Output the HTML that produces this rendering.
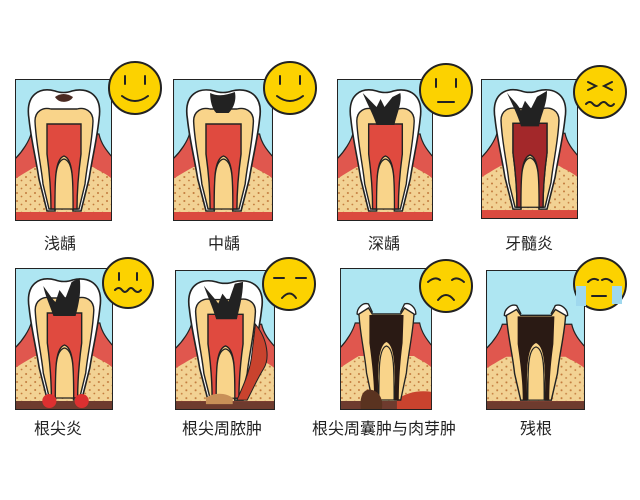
<!DOCTYPE html>
<html><head><meta charset="utf-8"><style>
html,body{margin:0;padding:0;background:#fff;}
svg{display:block}
text{font-family:"Liberation Sans","Noto Sans CJK SC",sans-serif;font-size:16px;fill:#222;text-anchor:middle}
</style></head><body>
<svg width="640" height="500" viewBox="0 0 640 500" xmlns="http://www.w3.org/2000/svg">
<defs>
<pattern id="dots" width="9" height="8" patternUnits="userSpaceOnUse">
<rect width="9" height="8" fill="#f2d294"/>
<circle cx="2" cy="2" r="1" fill="#c27a3c"/><circle cx="6.5" cy="5.5" r="0.9" fill="#c27a3c"/>
</pattern>
<symbol id="base" viewBox="0 0 97 142" preserveAspectRatio="none">
<rect x="0" y="0" width="97" height="142" fill="#aee6f2"/>
<path d="M0,80 C8,72 14,62 16,55 L84,55 C86,65 92,72 97,78 L97,142 L0,142 Z" fill="#e0574e" stroke="#222" stroke-width="1.2"/>
<path d="M0,100 C8,95 16,90 20,88 L78,88 C84,92 92,95 97,100 L97,133 L0,133 Z" fill="url(#dots)"/>
<rect x="0" y="133" width="97" height="9" fill="#db4a3f"/>
</symbol>
<symbol id="tooth" viewBox="0 0 97 142" preserveAspectRatio="none">
<path d="M14,40 C10,15 25,8 40,12 C45,14 52,14 57,12 C72,8 88,15 84,40 C82,60 78,75 74,100 L66,132 L58,132 L56,95 C54,80 44,80 42,95 L40,132 L32,132 L24,100 C20,75 16,60 14,40 Z" fill="#fff" stroke="#222" stroke-width="1.6"/>
<path d="M20,42 C20,32 28,28 36,30 L62,30 C70,28 78,32 78,42 C77,65 72,85 70,105 L64,130 L58,130 L56,95 C54,80 44,80 42,95 L40,130 L34,130 L28,105 C26,85 21,65 20,42 Z" fill="#f9d48a" stroke="#222" stroke-width="1.4"/>
<path d="M32,45 L66,45 L66,75 C64,90 62,110 62,130 L58,130 C58,100 58,80 49,77 C40,80 40,100 40,130 L36,130 C36,110 34,90 32,75 Z" fill="#e04a3f" stroke="#222" stroke-width="1.4"/>
<path d="M40,130 C40,100 40,82 49,80 C58,82 58,100 58,130 Z" fill="#f9d48a" stroke="#222" stroke-width="1.2"/>
</symbol>
<symbol id="stub" viewBox="0 0 97 142" preserveAspectRatio="none">
<path d="M18,46 C18,40 24,34 30,36 L34,44 L26,50 Z M80,46 C80,40 74,34 68,36 L64,44 L72,50 Z" fill="#fff" stroke="#222" stroke-width="1.4"/>
<path d="M20,46 L30,40 L34,46 L64,46 L68,40 L78,46 C77,65 72,85 70,105 L64,132 L58,132 L56,95 C54,80 44,80 42,95 L40,132 L34,132 L28,105 C26,85 21,65 20,46 Z" fill="#f9d48a" stroke="#222" stroke-width="1.4"/>
<path d="M31,47 L67,47 L66,75 C64,90 62,110 62,132 L58,132 C58,100 58,78 49,74 C40,78 40,100 40,132 L36,132 C36,110 33,90 31,75 Z" fill="#2a1a14"/>
<path d="M41,132 C41,100 41,80 49,78 C57,80 57,100 57,132 Z" fill="#f9d48a" stroke="#222" stroke-width="1.2"/>
</symbol>
</defs>

<g>
<svg x="15" y="79" width="97" height="142" viewBox="0 0 97 142" preserveAspectRatio="none">
<use href="#base" width="97" height="142"/><use href="#tooth" width="97" height="142"/>
<path d="M40,18 C45,14 52,14 58,18 C55,24 44,25 40,18 Z" fill="#4a2a22"/>
<rect x="0" y="0" width="97" height="142" fill="none" stroke="#222" stroke-width="2"/></svg>
<svg x="173" y="79" width="100" height="142" viewBox="0 0 97 142" preserveAspectRatio="none">
<use href="#base" width="97" height="142"/><use href="#tooth" width="97" height="142"/>
<path d="M36,14 C44,18 52,16 60,13 C62,22 58,30 54,34 L42,34 C38,30 36,22 36,14 Z" fill="#222"/>
<rect x="0" y="0" width="97" height="142" fill="none" stroke="#222" stroke-width="2"/></svg>
<svg x="337" y="79" width="96" height="142" viewBox="0 0 97 142" preserveAspectRatio="none">
<use href="#base" width="97" height="142"/><use href="#tooth" width="97" height="142"/>
<path d="M26,14 C32,20 36,24 40,28 L44,20 L48,28 L56,18 L64,14 C66,24 60,36 58,46 L40,46 C36,34 30,24 26,14 Z" fill="#222"/>
<rect x="0" y="0" width="97" height="142" fill="none" stroke="#222" stroke-width="2"/></svg>
<svg x="481" y="79" width="97" height="140" viewBox="0 0 97 142" preserveAspectRatio="none">
<use href="#base" width="97" height="142"/><use href="#tooth" width="97" height="142"/>
<path d="M32,45 L66,45 L66,75 C64,90 62,110 62,130 L58,130 C58,100 58,80 49,77 C40,80 40,100 40,130 L36,130 C36,110 34,90 32,75 Z" fill="#a3282a" stroke="#222" stroke-width="1.4"/>
<path d="M40,130 C40,100 40,82 49,80 C58,82 58,100 58,130 Z" fill="#f9d48a" stroke="#222" stroke-width="1.2"/>
<path d="M26,14 C32,22 36,24 40,32 L44,22 L50,30 L56,18 L66,12 C66,26 60,36 58,48 L40,48 C36,34 30,24 26,14 Z" fill="#222"/>
<rect x="0" y="0" width="97" height="142" fill="none" stroke="#222" stroke-width="2"/></svg>
</g>

<g>
<svg x="15" y="268" width="98" height="142" viewBox="0 0 97 142" preserveAspectRatio="none">
<use href="#base" width="97" height="142"/>
<rect x="0" y="133" width="97" height="9" fill="#6e3b2e"/>
<use href="#tooth" width="97" height="142"/>
<path d="M28,18 C34,26 36,30 40,34 L44,22 L50,30 L56,14 L64,10 C66,26 62,40 60,48 L38,48 C34,36 30,28 28,18 Z" fill="#222"/>
<circle cx="34" cy="133" r="7" fill="#dc3030"/><circle cx="66" cy="133" r="7" fill="#dc3030"/>
<rect x="0" y="0" width="97" height="142" fill="none" stroke="#222" stroke-width="2"/></svg>
<svg x="175" y="270" width="100" height="140" viewBox="0 0 97 142" preserveAspectRatio="none">
<use href="#base" width="97" height="142"/>
<rect x="0" y="133" width="97" height="9" fill="#6e3b2e"/>
<use href="#tooth" width="97" height="142"/>
<path d="M78,55 C90,70 92,90 86,100 C80,110 76,120 70,132 L60,132 C66,118 72,104 74,90 Z" fill="#c9432e" stroke="#222" stroke-width="1"/>
<path d="M28,16 C34,24 38,28 42,34 L46,24 L52,32 L58,14 L66,12 C66,26 62,40 60,50 L40,50 C36,36 32,28 28,16 Z" fill="#222"/>
<path d="M30,130 C36,124 50,124 56,130 L56,136 L30,136 Z" fill="#c89058"/>
<rect x="0" y="0" width="97" height="142" fill="none" stroke="#222" stroke-width="2"/></svg>
<svg x="340" y="268" width="92" height="142" viewBox="0 0 97 142" preserveAspectRatio="none">
<use href="#base" width="97" height="142"/>
<rect x="0" y="133" width="97" height="9" fill="#6e3b2e"/>
<path d="M60,132 C70,124 84,122 97,124 L97,142 L60,142 Z" fill="#c9432e"/>
<use href="#stub" width="97" height="142"/>
<path d="M22,142 C20,126 26,120 34,122 C42,124 46,132 44,142 Z" fill="#5a3320"/>
<rect x="0" y="0" width="97" height="142" fill="none" stroke="#222" stroke-width="2"/></svg>
<svg x="486" y="270" width="99" height="140" viewBox="0 0 97 142" preserveAspectRatio="none">
<use href="#base" width="97" height="142"/>
<rect x="0" y="133" width="97" height="9" fill="#6e3b2e"/>
<use href="#stub" width="97" height="142"/>
<rect x="0" y="0" width="97" height="142" fill="none" stroke="#222" stroke-width="2"/></svg>
</g>

<g stroke="#222" stroke-width="2" fill="#fcd200">
<circle cx="135" cy="88" r="26"/><circle cx="290" cy="88" r="26"/><circle cx="446" cy="90" r="26"/><circle cx="600" cy="92" r="26"/>
<circle cx="128" cy="283" r="25"/><circle cx="289" cy="284" r="26"/><circle cx="446" cy="286" r="26"/><circle cx="600" cy="284" r="26"/>
</g>
<g stroke="#222" stroke-width="2" fill="none" stroke-linecap="round">
<path d="M125,76 v8 M145,76 v8 M122,96 q13,10 26,0"/>
<path d="M280,76 v8 M300,76 v8 M277,96 q13,10 26,0"/>
<path d="M436,79 v8 M456,79 v8 M438,102 h16"/>
<path d="M588,82 l8,4 l-8,4 M612,82 l-8,4 l8,4 M586,104 q4,-4 7,0 q4,4 7,0 q4,-4 7,0 q4,4 7,0"/>
<path d="M119,273 v7 M137,273 v7 M115,290 q4,-4 7,0 q3,4 6,0 q3,-4 6,0 q4,4 7,0"/>
<path d="M274,278 h10 M296,278 h10 M282,298 q8,-9 14,0"/>
<path d="M428,282 q7,-6 12,-2 M464,282 q-7,-6 -12,-2 M438,300 q8,-10 16,0"/>
<path d="M588,282 q5,-5 10,-2 M612,282 q-5,-5 -10,-2 M592,296 h14"/>
</g>
<path d="M576,286 h10 v20 h-10 z M612,286 h10 v18 h-10 z" fill="#9fd8ee"/>

<text x="60" y="249">浅龋</text>
<text x="224" y="249">中龋</text>
<text x="384" y="249">深龋</text>
<text x="529" y="249">牙髓炎</text>
<text x="58" y="434">根尖炎</text>
<text x="222" y="434">根尖周脓肿</text>
<text x="384" y="434">根尖周囊肿与肉芽肿</text>
<text x="536" y="434">残根</text>
</svg>
</body></html>
